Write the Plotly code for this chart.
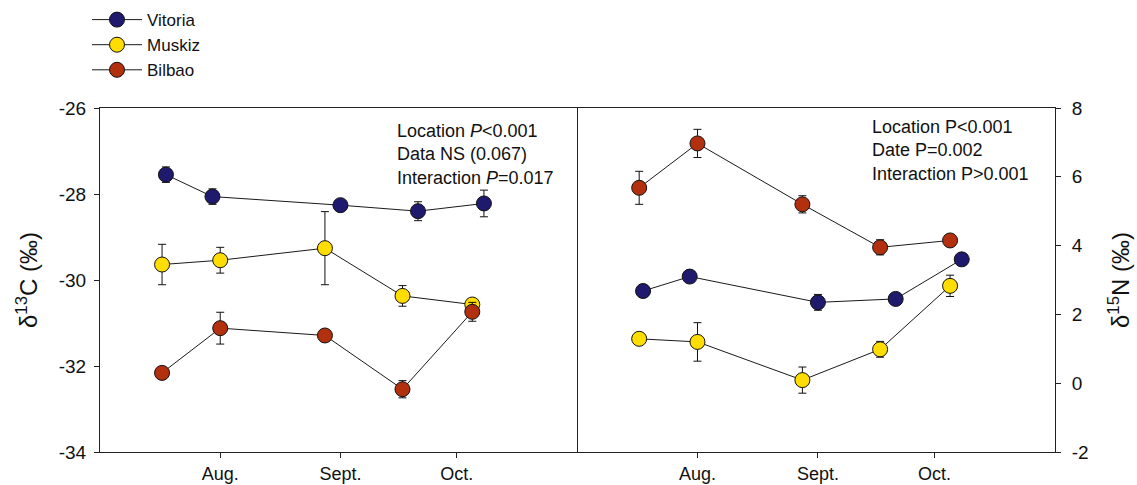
import plotly.graph_objects as go

# ---------------- data ----------------
dates_vitoria = ["2009-07-18", "2009-07-30", "2009-09-01", "2009-09-21", "2009-10-08"]
dates_other = ["2009-07-17", "2009-08-01", "2009-08-28", "2009-09-17", "2009-10-05"]

c13_vitoria = [-27.55, -28.06, -28.26, -28.40, -28.22]
c13_vitoria_err = [0.18, 0.18, 0.08, 0.22, 0.31]
c13_muskiz = [-29.64, -29.54, -29.26, -30.37, -30.57]
c13_muskiz_err = [0.47, 0.30, 0.85, 0.24, 0.10]
c13_bilbao = [-32.16, -31.12, -31.29, -32.54, -30.74]
c13_bilbao_err = [0.10, 0.37, 0.12, 0.20, 0.22]

n15_vitoria = [2.68, 3.10, 2.35, 2.45, 3.60]
n15_vitoria_err = [0.10, 0.10, 0.23, 0.10, 0.10]
n15_muskiz = [1.29, 1.20, 0.09, 0.985, 2.83]
n15_muskiz_err = [0.10, 0.56, 0.38, 0.23, 0.31]
n15_bilbao = [5.68, 6.97, 5.20, 3.95, 4.15]
n15_bilbao_err = [0.48, 0.41, 0.25, 0.22, 0.10]

month_ticks = ["2009-08-01", "2009-09-01", "2009-10-01"]
month_labels = ["Aug.", "Sept.", "Oct."]
c13_ticks = [-34, -32, -30, -28, -26]
n15_ticks = [-2, 0, 2, 4, 6, 8]

names = ["Vitoria", "Muskiz", "Bilbao"]
colors = ["#1f1a6e", "#ffdd00", "#b3300f"]

FONT = "Liberation Sans, Arial, sans-serif"

fig = go.Figure()

left_sets = [(dates_vitoria, c13_vitoria, c13_vitoria_err),
             (dates_other, c13_muskiz, c13_muskiz_err),
             (dates_other, c13_bilbao, c13_bilbao_err)]
right_sets = [(dates_vitoria, n15_vitoria, n15_vitoria_err),
              (dates_other, n15_muskiz, n15_muskiz_err),
              (dates_other, n15_bilbao, n15_bilbao_err)]

for i, (xs, ys, es) in enumerate(left_sets):
    fig.add_trace(go.Scatter(
        x=xs, y=ys, name=names[i], mode="lines+markers",
        line=dict(color="#1a1a1a", width=1),
        marker=dict(size=15, color=colors[i], line=dict(color="#111", width=1)),
        error_y=dict(type="data", array=es, color="#111", thickness=1, width=4),
        xaxis="x", yaxis="y", showlegend=True, legendgroup=names[i]))

for i, (xs, ys, es) in enumerate(right_sets):
    fig.add_trace(go.Scatter(
        x=xs, y=ys, name=names[i], mode="lines+markers",
        line=dict(color="#1a1a1a", width=1),
        marker=dict(size=15, color=colors[i], line=dict(color="#111", width=1)),
        error_y=dict(type="data", array=es, color="#111", thickness=1, width=4),
        xaxis="x2", yaxis="y2", showlegend=False, legendgroup=names[i]))

split = 477 / 955
common_x = dict(type="date", range=["2009-07-01", "2009-11-01"],
                tickvals=month_ticks, ticktext=month_labels,
                showline=True, linecolor="#222", linewidth=1, mirror=True,
                ticks="outside", ticklen=5, tickcolor="#222",
                showgrid=False, zeroline=False, automargin=False,
                tickfont=dict(family=FONT, size=18, color="#111"))

fig.update_layout(
    width=1137, height=485,
    margin=dict(l=100, r=82, t=108, b=33, autoexpand=False),
    paper_bgcolor="white", plot_bgcolor="white",
    font=dict(family=FONT, color="#111"),
    xaxis=dict(domain=[0, split], anchor="y", **common_x),
    xaxis2=dict(domain=[split, 1], anchor="y2", **common_x),
    yaxis=dict(range=[-34, -26], tickvals=c13_ticks,
               ticktext=[str(v) for v in c13_ticks],
               showline=True, linecolor="#222", linewidth=1, mirror=True,
               ticks="outside", ticklen=5, tickcolor="#222", ticklabelstandoff=4,
               showgrid=False, zeroline=False, anchor="x", automargin=False,
               tickfont=dict(family=FONT, size=19, color="#111"),
               title=dict(text="δ<sup>13</sup>C (‰)", standoff=14,
                          font=dict(family=FONT, size=24, color="#111"))),
    yaxis2=dict(range=[-2, 8], tickvals=n15_ticks,
                ticktext=[str(v) for v in n15_ticks], side="right",
                showline=True, linecolor="#222", linewidth=1, mirror=False,
                ticks="outside", ticklen=5, tickcolor="#222", ticklabelstandoff=7,
                showgrid=False, zeroline=False, anchor="x2", automargin=False,
                tickfont=dict(family=FONT, size=19, color="#111"),
                title=dict(text="δ<sup>15</sup>N (‰)", standoff=24,
                           font=dict(family=FONT, size=24, color="#111"))),
    legend=dict(x=-0.0136, y=1.308, xanchor="left", yanchor="top",
                bgcolor="rgba(0,0,0,0)", tracegroupgap=0, itemwidth=50,
                font=dict(family=FONT, size=17, color="#111")),
    showlegend=True,
)

fig.add_annotation(
    text="Location <i>P</i><0.001<br>Data NS (0.067)<br>Interaction <i>P</i>=0.017",
    xref="paper", yref="paper", x=(395 - 100) / 955, y=1 - (119 - 108) / 344,
    xanchor="left", yanchor="top", align="left", showarrow=False,
    font=dict(family=FONT, size=18, color="#111"))
fig.add_annotation(
    text="Location P<0.001<br>Date P=0.002<br>Interaction P>0.001",
    xref="paper", yref="paper", x=(870 - 100) / 955, y=1 - (115 - 108) / 344,
    xanchor="left", yanchor="top", align="left", showarrow=False,
    font=dict(family=FONT, size=18, color="#111"))

fig.write_html("out.html", config={"displayModeBar": False},
               post_script="document.body.style.margin='0';")
